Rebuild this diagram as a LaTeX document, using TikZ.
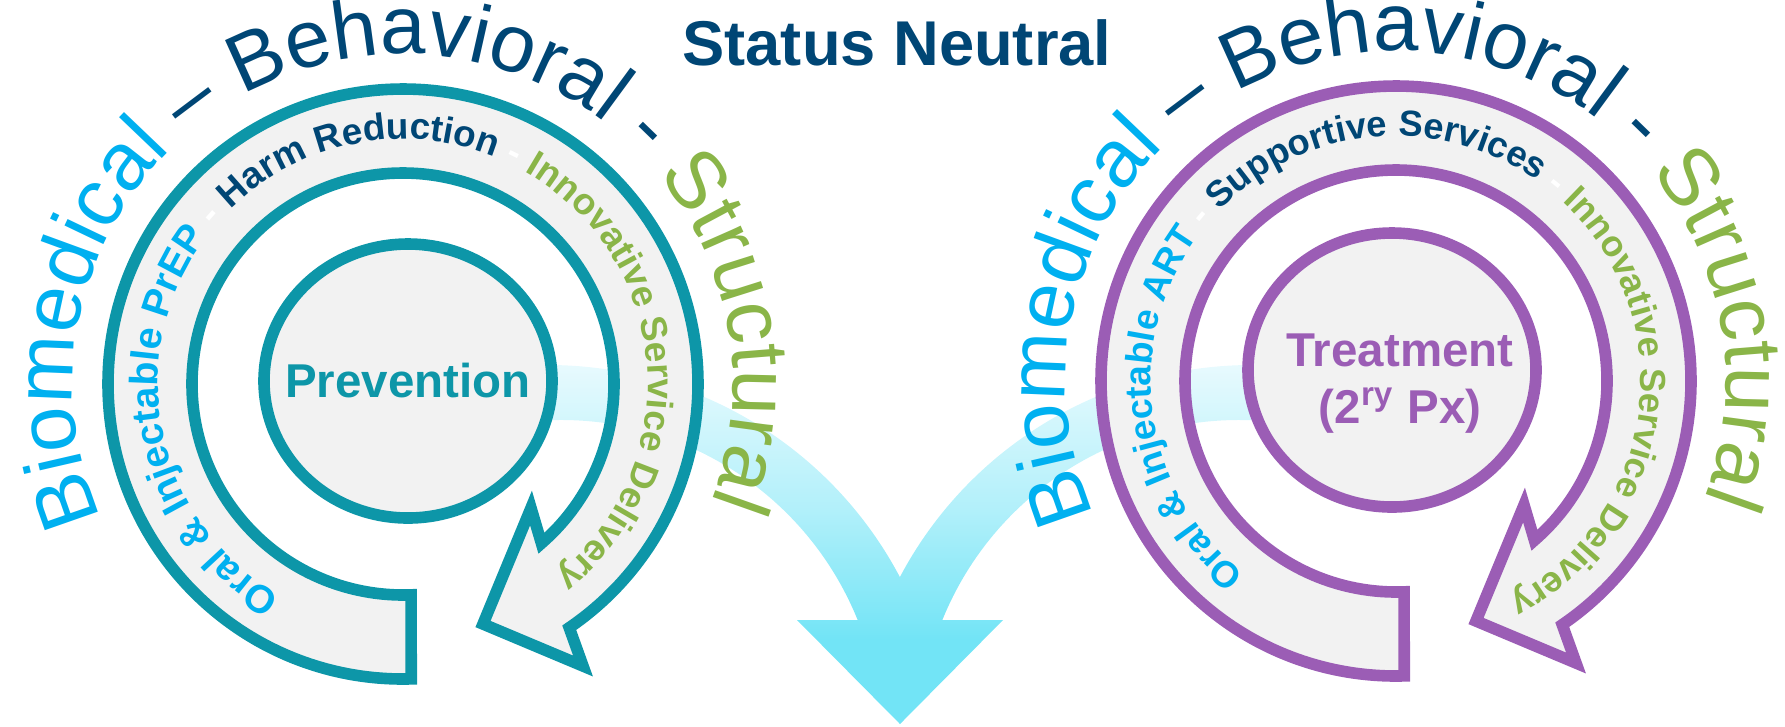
\documentclass[tikz,border=0pt]{standalone}
\usepackage{fontspec}
\setmainfont{Liberation Sans}

\definecolor{ringteal}{RGB}{13,150,168}
\definecolor{ringpurple}{RGB}{155,93,181}
\definecolor{bioblue}{RGB}{0,176,240}
\definecolor{behavnavy}{RGB}{0,70,117}
\definecolor{structgreen}{RGB}{138,181,72}
\definecolor{ringfill}{RGB}{242,242,242}
\definecolor{flowtop}{RGB}{236,251,254}
\definecolor{flowpale}{RGB}{178,240,250}
\definecolor{flowmid}{RGB}{114,228,246}
\definecolor{flowlow}{RGB}{158,236,249}

\pgfdeclareverticalshading{flowshade}{100bp}{color(0bp)=(flowlow); color(25bp)=(flowlow);
  color(30bp)=(flowmid); color(40bp)=(flowmid); color(56bp)=(flowpale);
  color(75bp)=(flowtop); color(100bp)=(flowtop)}

\newcommand{\outerfont}{\fontsize{23.2}{28}\selectfont}
\newcommand{\ringfont}[1]{\fontsize{#1}{13}\selectfont\bfseries}
\newcommand{\labelfont}{\fontsize{13.5}{16.2}\selectfont\bfseries}

\tikzset{
  ringline/.style={draw=#1, fill=ringfill, line width=3.3pt, line join=miter}
}

% one letter of a curved label, baseline on the circle
\newcommand{\placechar}[3]{\node[rotate=#1-90, anchor=base, inner sep=0pt] at (#1:#2) {#3};}

% letters set clockwise round the scope origin: radius, format, text
\ExplSyntaxOn
\fp_new:N \g_arc_angle_fp
\fp_new:N \l_arc_step_fp
\tl_new:N \l_arc_mid_tl
\box_new:N \g_arc_box
\NewDocumentCommand{\arcstart}{m}{ \fp_gset:Nn \g_arc_angle_fp {#1} }
\NewDocumentCommand{\arcchars}{mmm}
  {
    \str_map_inline:nn {#3}
      {
        \pgfinterruptpicture
          \hbox_gset:Nn \g_arc_box { #2 {##1} }
        \endpgfinterruptpicture
        \fp_set:Nn \l_arc_step_fp
          { \dim_to_fp:n { \box_wd:N \g_arc_box } / ( #1 * 0.284528 ) * 180 / pi }
        \tl_set:Nx \l_arc_mid_tl { \fp_eval:n { \g_arc_angle_fp - \l_arc_step_fp / 2 } }
        \str_if_eq:nnF {##1} {~}
          { \exp_args:NV \placechar \l_arc_mid_tl {#1} { #2 {##1} } }
        \fp_gset:Nn \g_arc_angle_fp { \g_arc_angle_fp - \l_arc_step_fp }
      }
  }
\ExplSyntaxOff

% block arc with its arrowhead, drawn round the origin of the scope
\newcommand{\ringarrow}[1]{%
  \draw[ringline=#1] (271.6:295)
    arc[start angle=271.6, end angle=-55.7, radius=295]
    -- (180,-282) -- (80,-240) -- (128,-124) -- (-49:211)
    arc[start angle=-49, end angle=272.2, radius=211] -- cycle;}

\newcommand{\outertext}{%
  \arcstart{204}
  \arcchars{330}{\outerfont\color{bioblue}}{Biomedical}
  \arcchars{330}{\outerfont\color{behavnavy}}{ – Behavioral - }
  \arcchars{330}{\outerfont\color{structgreen}}{Structural}}

\begin{document}
\begin{tikzpicture}[x=0.01cm, y=0.01cm]
  \useasboundingbox (0,0) rectangle (1785,-726);

  % flow arrow behind both cycles
  \shade[shading=flowshade] (548,-763) ++(95:398)
    arc[start angle=95, end angle=27.85, radius=398]
    arc[start angle=152.15, end angle=85, radius=398]
    -- (1266.9,-421.2)
    arc[start angle=85, end angle=158, radius=320]
    -- (1003,-620) -- (900,-724) -- (797,-620) -- (857.7,-620.1)
    arc[start angle=22, end angle=95, radius=320] -- cycle;

  % prevention cycle
  \begin{scope}[shift={(403,-384)}]
    \ringarrow{ringteal}
    \arcstart{240}
    \arcchars{245}{\ringfont{11.2}\color{bioblue}}{Oral & Injectable PrEP}
    \arcchars{245}{\ringfont{11.2}\color{white}}{ - }
    \arcchars{245}{\ringfont{10.5}\color{behavnavy}}{Harm Reduction}
    \arcchars{245}{\ringfont{10.5}\color{white}}{ - }
    \arcchars{245}{\ringfont{10.5}\color{structgreen}}{Innovative Service Delivery}
    \outertext
  \end{scope}
  \draw[ringline=ringteal] (408,-381) ellipse[x radius=144, y radius=137];
  \node[font=\labelfont, text=ringteal] (prevention) at (408,-381) {Prevention};

  % treatment cycle
  \begin{scope}[shift={(1396,-381)}]
    \ringarrow{ringpurple}
    \arcstart{232}
    \arcchars{245}{\ringfont{10.5}\color{bioblue}}{Oral & Injectable ART}
    \arcchars{245}{\ringfont{10.5}\color{white}}{ - }
    \arcchars{245}{\ringfont{10.3}\color{behavnavy}}{Supportive Services}
    \arcchars{245}{\ringfont{10.3}\color{white}}{ - }
    \arcchars{245}{\ringfont{10.3}\color{structgreen}}{Innovative Service Delivery}
    \outertext
  \end{scope}
  \draw[ringline=ringpurple] (1392,-370) ellipse[x radius=144, y radius=137];
  \node[font=\labelfont, text=ringpurple, align=center] (treatment) at (1400,-384)
    {Treatment\\(2\textsuperscript{ry} Px)};

  \node[font=\fontsize{18}{22}\selectfont\bfseries, text=behavnavy, anchor=base] (status)
    at (897,-65) {Status Neutral};
\end{tikzpicture}
\end{document}
